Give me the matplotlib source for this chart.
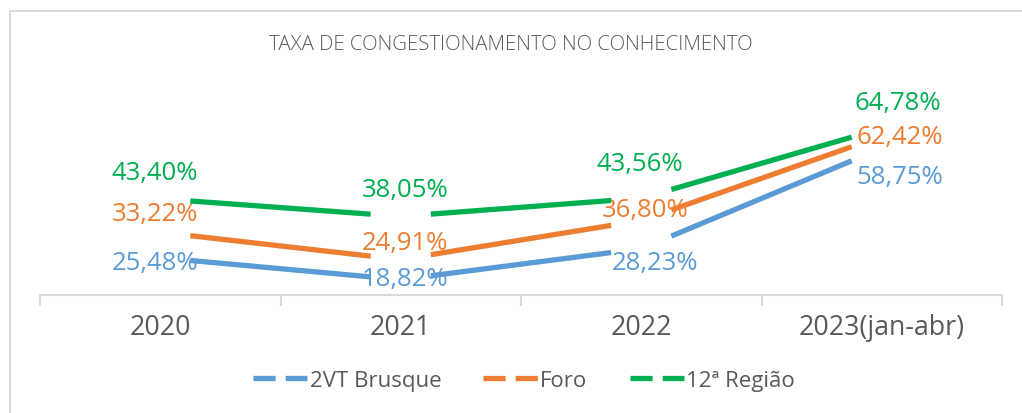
import matplotlib
matplotlib.use("Agg")
import matplotlib.pyplot as plt
from matplotlib.patches import Rectangle
from matplotlib.lines import Line2D
import numpy as np

categories = ["2020", "2021", "2022", "2023(jan-abr)"]
series_names = ["2VT Brusque", "Foro", "12ª Região"]
brusque = [25.48, 18.82, 28.23, 58.75]
foro = [33.22, 24.91, 36.80, 62.42]
regiao = [43.40, 38.05, 43.56, 64.78]
title = "TAXA DE CONGESTIONAMENTO NO CONHECIMENTO"

colors = ["#5b9bd5", "#ed7d31", "#00b050"]
# label offsets in pixels (dx, dy upward positive)
label_offsets = [
    [(-5, -5), (4, 1), (14, -14), (18, -28)],
    [(-5, 19), (4, 17), (4, 11), (18, 0)],
    [(-5, 26), (4, 27), (-1, 35), (16, 26)],
]

FONT = "Open Sans"
W, H = 1022, 414
fig = plt.figure(figsize=(W / 100, H / 100), dpi=100)
fig.patch.set_facecolor("white")

# chart border
fig.add_artist(Rectangle((10 / W, -0.05), 1.1, (H - 12) / H + 0.05, transform=fig.transFigure,
                         fill=False, edgecolor="#d9d9d9", linewidth=1.5))

ax = fig.add_axes([40 / W, (H - 296) / H, (1002 - 40) / W, (296 - 80) / H])
ax.set_xlim(-0.5, 3.5)
ax.set_ylim(14.15, 79.8)
for s in ["top", "right", "left"]:
    ax.spines[s].set_visible(False)
ax.spines["bottom"].set_color("#d9d9d9")
ax.spines["bottom"].set_linewidth(1.5)
ax.spines["bottom"].set_zorder(2.5)
ax.set_yticks([])
x = np.arange(len(categories))
ax.set_xticks(x)
ax.set_xticklabels(categories, fontsize=19.3, color="#595959", family=FONT)
ax.tick_params(axis="x", which="major", length=0, pad=13)
ax.set_xticks(np.arange(-0.5, 4, 1), minor=True)
ax.tick_params(axis="x", which="minor", length=8, color="#d9d9d9", width=1.5)

cut = 0.125
all_series = [brusque, foro, regiao]
for vals, col in zip(all_series, colors):
    for i in range(len(vals) - 1):
        x0, x1 = x[i], x[i + 1]
        y0, y1 = vals[i], vals[i + 1]
        xa, xb = x0 + cut, x1 - cut
        ya = y0 + (y1 - y0) * cut
        yb = y1 - (y1 - y0) * cut
        ax.plot([xa, xb], [ya, yb], color=col, linewidth=3.8, solid_capstyle="butt", zorder=3)

for vals, col, offs in zip(all_series, colors, label_offsets):
    for i, v in enumerate(vals):
        dx, dy = offs[i]
        ax.annotate(f"{v:.2f}%".replace(".", ","), (x[i], v), xytext=(dx * 0.72, dy * 0.72),
                    textcoords="offset points", ha="center", va="center",
                    fontsize=18.5, color=col, family=FONT, zorder=2.6,
                    bbox=dict(boxstyle="square,pad=0.05", facecolor="white", edgecolor="none"),
                    annotation_clip=False)

fig.text(0.5, (H - 45) / H, title, ha="center", va="center", fontsize=14.7,
         color="#595959", family=FONT, fontweight="light")

handles = [Line2D([0], [0], color=c, linewidth=3.8, linestyle=(0, (4.2, 1.9))) for c in colors]
leg = fig.legend(handles, series_names, loc="center", bbox_to_anchor=(524 / W, (H - 381) / H),
                 ncol=3, frameon=False, prop={"family": FONT, "size": 16},
                 handlelength=2.45, handletextpad=0.1, columnspacing=1.9)
for t in leg.get_texts():
    t.set_color("#595959")

fig.savefig("out.png", dpi=100, facecolor="white")
